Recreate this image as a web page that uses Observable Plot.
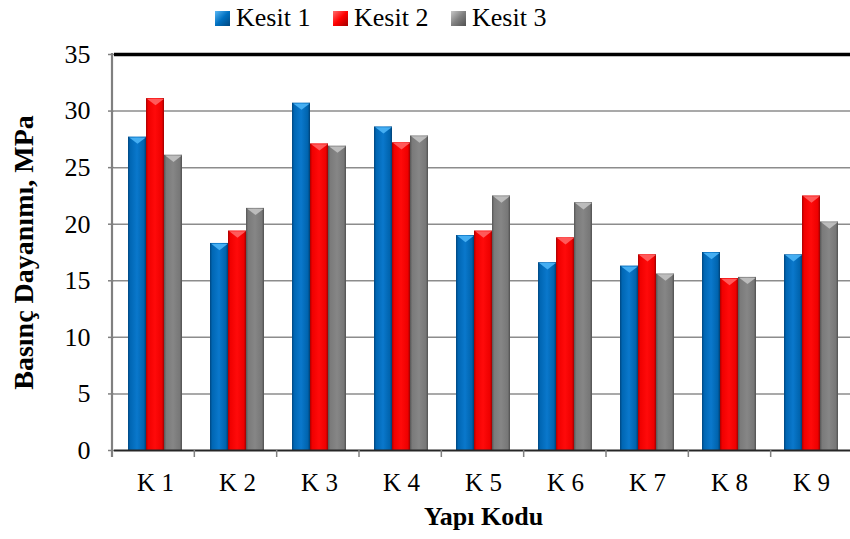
<!DOCTYPE html>
<html>
<head>
<meta charset="utf-8">
<script src="https://cdn.jsdelivr.net/npm/d3@7"></script>
<script src="https://cdn.jsdelivr.net/npm/@observablehq/plot@0.6"></script>
<style>
  body { margin: 0; background: #fff; font-family: "Liberation Serif", "DejaVu Serif", serif; }
  #wrap { position: relative; width: 850px; height: 539px; overflow: hidden; }
  #legend { position: relative; height: 40px; }
  .item { position: absolute; top: 3px; display: flex; align-items: center; font-size: 26px; color: #000; font-family: "Liberation Serif", "DejaVu Serif", serif; }
  .sw { width: 15px; height: 15px; margin-right: 6px; box-sizing: border-box; }
  #chart svg text { font-family: "Liberation Serif", "DejaVu Serif", serif; }
  g[aria-label="y-axis tick"] path { stroke: #808080; stroke-width: 1.5; }
  g[aria-label="y-axis tick label"] text { font-size: 26px; }
  g[aria-label$="axis label"] text { font-weight: bold; font-size: 26px; }
  g[aria-label="y-axis label"] text { font-size: 28px; }
</style>
</head>
<body>
<svg width="0" height="0" style="position:absolute">
  <defs>
    <linearGradient id="gBlue" x1="0" x2="1" y1="0" y2="0">
      <stop offset="0" stop-color="#00467f"/>
      <stop offset="0.12" stop-color="#0066b3"/>
      <stop offset="0.5" stop-color="#0a78cc"/>
      <stop offset="0.88" stop-color="#0063ad"/>
      <stop offset="1" stop-color="#003f73"/>
    </linearGradient>
    <linearGradient id="gRed" x1="0" x2="1" y1="0" y2="0">
      <stop offset="0" stop-color="#a80000"/>
      <stop offset="0.12" stop-color="#f00000"/>
      <stop offset="0.5" stop-color="#ff0a0a"/>
      <stop offset="0.88" stop-color="#ee0000"/>
      <stop offset="1" stop-color="#9c0000"/>
    </linearGradient>
    <linearGradient id="gGray" x1="0" x2="1" y1="0" y2="0">
      <stop offset="0" stop-color="#555555"/>
      <stop offset="0.12" stop-color="#7a7a7a"/>
      <stop offset="0.5" stop-color="#868686"/>
      <stop offset="0.88" stop-color="#777777"/>
      <stop offset="1" stop-color="#505050"/>
    </linearGradient>
  </defs>
</svg>
<div id="wrap">
  <div id="legend"></div>
  <div id="chart"></div>
</div>
<script>
// Compressive strength by building code, three sections per building
const categories = ["K 1", "K 2", "K 3", "K 4", "K 5", "K 6", "K 7", "K 8", "K 9"];
const series = ["Kesit 1", "Kesit 2", "Kesit 3"];
const kesit1 = [27.7, 18.3, 30.7, 28.6, 19.0, 16.6, 16.3, 17.5, 17.3];
const kesit2 = [31.1, 19.4, 27.1, 27.2, 19.4, 18.8, 17.3, 15.2, 22.5];
const kesit3 = [26.1, 21.4, 26.9, 27.8, 22.5, 21.9, 15.6, 15.3, 20.2];
const yTicks = [0, 5, 10, 15, 20, 25, 30, 35];

const values = [kesit1, kesit2, kesit3];
const fills = ["url(#gBlue)", "url(#gRed)", "url(#gGray)"];
const tipFills = ["#45aef2", "#ff5a5a", "#bcbcbc"];
const swatch = [
  "linear-gradient(135deg,#5ab8f5 0%,#0070c0 50%,#00477f 100%)",
  "linear-gradient(135deg,#ff7070 0%,#ff0000 50%,#a00000 100%)",
  "linear-gradient(135deg,#c8c8c8 0%,#808080 50%,#505050 100%)"
];

const rows = categories.flatMap((k, i) => series.map((s, j) => ({k, s, v: values[j][i]})));

// flat downward-pointing bevel at the top of each bar
const bevel = {
  draw(context, size) {
    const w = Math.sqrt(size / Math.PI);
    const h = 3.2;
    context.moveTo(-w, -h);
    context.lineTo(w, -h);
    context.lineTo(0, h);
    context.closePath();
  }
};

const marks = [
  Plot.gridY({ticks: yTicks.slice(1, -1), stroke: "#8c8c8c", strokeOpacity: 1, strokeWidth: 1.5})
];
series.forEach((s, j) => {
  const data = rows.filter(d => d.s === s);
  marks.push(Plot.barY(data, {fx: "k", x: "s", y: "v", fill: fills[j]}));
  marks.push(Plot.dot(data, {fx: "k", x: "s", y: "v", dy: 3.5, r: 8.3, symbol: bevel, fill: tipFills[j], stroke: "none"}));
});
marks.push(Plot.ruleY([0], {stroke: "#262626", strokeWidth: 2}));
marks.push(Plot.ruleY([35], {stroke: "#000", strokeWidth: 3.5}));

const chart = Plot.plot({
  width: 850,
  height: 499,
  marginLeft: 112,
  marginRight: -3,
  marginTop: 14,
  marginBottom: 89,
  style: {fontFamily: "'Liberation Serif', 'DejaVu Serif', serif", fontSize: "25px", background: "#fff", color: "#000"},
  fx: {domain: categories, padding: 0, tickSize: 0, tickPadding: 23, label: "Yapı Kodu", labelAnchor: "center", labelOffset: 74, labelArrow: "none"},
  x: {domain: series, axis: null, paddingInner: 0, paddingOuter: 0.75},
  y: {domain: [0, 35], ticks: yTicks, tickSize: 6, tickPadding: 18, label: "Basınç Dayanımı, MPa", labelAnchor: "center", labelOffset: 101, labelArrow: "none"},
  color: {domain: series, range: fills},
  marks
});
document.getElementById("chart").appendChild(chart);

// keep axis titles plain (no direction arrows)
d3.select(chart).selectAll('g[aria-label$="axis label"] text').each(function() {
  this.textContent = this.textContent.replace(/\s*[↑↓→←]\s*/g, "").trim();
});

// left axis line and category boundary ticks, from the plot's own scales
const fxs = chart.scale("fx");
const ys = chart.scale("y");
const [fx0, fx1] = fxs.range;
const [yBottom, yTop] = ys.range;
const step = (fx1 - fx0) / categories.length;
const g = d3.select(chart).append("g").attr("stroke", "#808080").attr("stroke-width", 1.5);
g.append("line").attr("x1", fx0).attr("x2", fx0).attr("y1", yTop - 1).attr("y2", yBottom + 7).attr("stroke-width", 2.2);
d3.range(categories.length + 1).forEach(i => {
  const x = fx0 + i * step;
  g.append("line").attr("x1", x).attr("x2", x).attr("y1", yBottom).attr("y2", yBottom + 7);
});

// legend
const legend = document.getElementById("legend");
const lefts = [215, 333, 451];
series.forEach((s, j) => {
  const item = document.createElement("div");
  item.className = "item";
  item.style.left = lefts[j] + "px";
  const sw = document.createElement("div");
  sw.className = "sw";
  sw.style.background = swatch[j];
  const t = document.createElement("span");
  t.textContent = s;
  item.appendChild(sw);
  item.appendChild(t);
  legend.appendChild(item);
});
</script>
</body>
</html>
